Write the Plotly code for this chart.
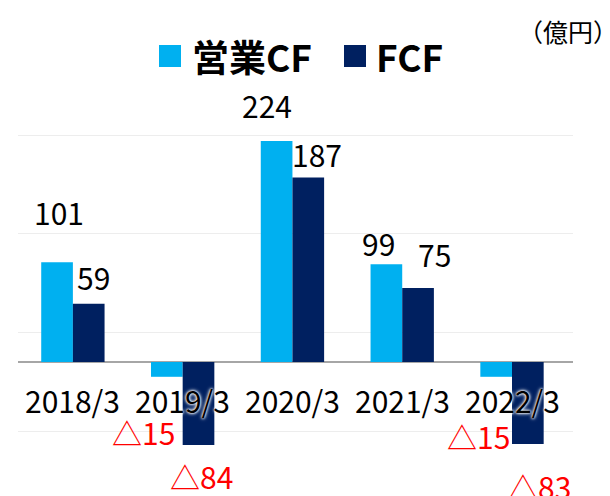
import plotly.graph_objects as go

categories = ["2018/3", "2019/3", "2020/3", "2021/3", "2022/3"]
op_cf = [101, -15, 224, 99, -15]
fcf = [59, -84, 187, 75, -83]
series_names = ["営業CF", "FCF"]
unit_label = "（億円）"

colors = ["#00B0F0", "#002060"]
FONT = "Noto Sans CJK JP"

# figure geometry (the page body adds an 8px margin)
W, H = 602, 488
L, R, T, B = 10, 37, 112, 36
PW, PH = W - L - R, H - T - B

def px(x):
    return (x - L) / PW

def py(y):
    return (H - B - y) / PH

# label offsets (px) relative to bar centre / bar end, per category
op_off = [(2, -50), (-23, 55), (-9, -36), (-8, -21), (-18, 59)]
fcf_off = [(5, -27), (3, 31), (8.5, -23), (16, -33.5), (11.5, 42)]
bar_shift = 16

fig = go.Figure()
for name, vals, col in zip(series_names, [op_cf, fcf], colors):
    fig.add_trace(go.Bar(x=categories, y=vals, name=name,
                         marker=dict(color=col, line=dict(width=0)),
                         showlegend=False, hoverinfo="skip"))

def fmt(v):
    return str(v) if v >= 0 else "△" + str(abs(v))

annotations = []
for vals, offs, sgn in [(op_cf, op_off, -1), (fcf, fcf_off, 1)]:
    for c, v, (dx, dy) in zip(categories, vals, offs):
        annotations.append(dict(x=c, y=v, xref="x", yref="y", text=fmt(v), showarrow=False,
                                xshift=sgn * bar_shift + dx, yshift=-dy,
                                font=dict(family=FONT, size=30,
                                          color="#000000" if v >= 0 else "#FF0000")))

for c in categories:
    annotations.append(dict(x=c, y=0, xref="x", yref="y", text=c, showarrow=False, yshift=-37.5,
                            font=dict(family=FONT, size=30, color="#000000",
                                      shadow="0px 0px 2px white, 0px 0px 3px white, 0px 0px 4px white")))

# legend (texts)
annotations.append(dict(x=px(182), y=py(48), xref="paper", yref="paper", xanchor="left", yanchor="middle",
                        showarrow=False, text="<b>%s</b>" % series_names[0],
                        font=dict(family=FONT, size=37, color="#000000")))
annotations.append(dict(x=px(366), y=py(48), xref="paper", yref="paper", xanchor="left", yanchor="middle",
                        showarrow=False, text="<b>%s</b>" % series_names[1],
                        font=dict(family=FONT, size=37, color="#000000")))
annotations.append(dict(x=px(559.5), y=py(23), xref="paper", yref="paper", xanchor="center", yanchor="middle",
                        showarrow=False, text=unit_label, font=dict(family=FONT, size=25, color="#000000")))

shapes = [
    dict(type="rect", xref="paper", yref="paper", x0=px(151), x1=px(173), y0=py(59), y1=py(37),
         fillcolor=colors[0], line=dict(width=0)),
    dict(type="rect", xref="paper", yref="paper", x0=px(336), x1=px(358), y0=py(59), y1=py(37),
         fillcolor=colors[1], line=dict(width=0)),
]

fig.update_layout(
    width=W, height=H,
    margin=dict(l=L, r=R, t=T, b=B),
    paper_bgcolor="white", plot_bgcolor="white",
    barmode="group", bargap=0.423, bargroupgap=0,
    showlegend=False,
    xaxis=dict(showticklabels=False, showgrid=False, zeroline=False, showline=False, ticks=""),
    yaxis=dict(range=[-99.3, 245.2], showticklabels=False, tick0=30, dtick=100,
               gridcolor="#EDEDED", gridwidth=1, zeroline=True, zerolinecolor="#A6A6A6",
               zerolinewidth=1.5, ticks=""),
    annotations=annotations,
    shapes=shapes,
)

fig.write_html("out.html")
